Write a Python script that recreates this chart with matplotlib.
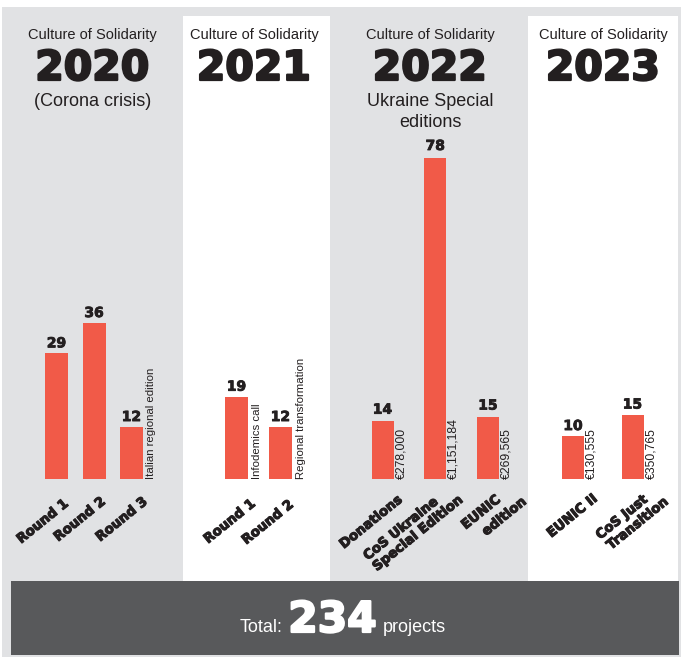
import matplotlib
matplotlib.use('Agg')
import matplotlib.pyplot as plt
from matplotlib.patches import Rectangle
import matplotlib.patheffects as pe

# ---------------- data ----------------
years = ['2020', '2021', '2022', '2023']
subtitles = [['(Corona crisis)'], [], ['Ukraine Special', 'editions'], []]

cats_2020 = ['Round 1', 'Round 2', 'Round 3']
vals_2020 = [29, 36, 12]
notes_2020 = ['', '', 'Italian regional edition']

cats_2021 = ['Round 1', 'Round 2']
vals_2021 = [19, 12]
notes_2021 = ['Infodemics call', 'Regional transformation']

cats_2022 = ['Donations', 'CoS Ukraine\nSpecial Edition', 'EUNIC\nedition']
vals_2022 = [14, 78, 15]
notes_2022 = ['€278,000', '€1,151,184', '€269,565']

cats_2023 = ['EUNIC II', 'CoS Just\nTransition']
vals_2023 = [10, 15]
notes_2023 = ['€130,555', '€350,765']

total_projects = 234

# ---------------- style / layout ----------------
GRAY = '#e1e2e4'
WHITE = '#ffffff'
RED = '#f15a48'
DARK = '#58595b'
INK = '#231f20'

W, H = 681, 657
BASE = 479            # pixel row of bar baseline
TOP = 16
PT = 0.72             # points per pixel at dpi 100

panel_x = [(2, 183), (183, 330), (330, 528), (528, 678)]
panel_bg = [GRAY, WHITE, GRAY, WHITE]
px_per_unit = [4.333, 4.333, 4.12, 4.3]
title_cx = [92.5, 254, 430, 603]
bar_c0 = [56.5, 236.5, 382.5, 573]
bar_sp = [37.5, 44, 52.75, 59.5]
bar_w = [23, 23, 22, 22]
note_size = [8.2, 8.2, 8.8, 8.8]
note_gap = [3.5, 3.5, 1.5, 1.5]
value_gap = [4.3, 4.3, 5.5, 4.3]
# anchor (dx, dy) in px of each label line's top-right end, relative to bar centre/baseline
label_off = [[[(6.5, 18)], [(6, 16)], [(10.5, 16)]],
             [[(13.5, 18)], [(7.5, 19)]],
             [[(14.5, 14)], [(-2.5, 16), (22.5, 14)], [(7, 14), (33, 16)]],
             [[(19, 13)], [(9.5, 14), (30.5, 16)]]]
LABEL_ROT = 39

SANS = ['Liberation Sans', 'DejaVu Sans']
HEAVY = ['DejaVu Sans']


def thick(w):
    return [pe.withStroke(linewidth=w, foreground=INK)]


def thick_white(w):
    return [pe.withStroke(linewidth=w, foreground='white')]


cats = [cats_2020, cats_2021, cats_2022, cats_2023]
vals = [vals_2020, vals_2021, vals_2022, vals_2023]
notes = [notes_2020, notes_2021, notes_2022, notes_2023]

fig = plt.figure(figsize=(W / 100, H / 100), dpi=100)
fig.patch.set_facecolor('white')


def fx(px):
    return px / W


def fy(py):
    return 1 - py / H


def frect(x0, y0, x1, y1, color, z=0):
    fig.patches.append(Rectangle((fx(x0), fy(y1)), (x1 - x0) / W, (y1 - y0) / H,
                                 transform=fig.transFigure, facecolor=color,
                                 edgecolor='none', zorder=z))


# background
frect(2, 7, 681, 657, GRAY)
for (x0, x1), bg in zip(panel_x, panel_bg):
    if bg == WHITE:
        frect(x0, TOP, x1, 581, WHITE, z=1)
frect(11, 581, 679, 655, DARK, z=2)

# titles
for k, yr in enumerate(years):
    cx = fx(title_cx[k])
    fig.text(cx, fy(39.5), 'Culture of Solidarity', ha='center', va='baseline',
             fontsize=10.5, family=SANS, color=INK)
    fig.text(cx, fy(80), yr, ha='center', va='baseline', fontsize=29.5,
             fontweight='bold', family=HEAVY, color=INK, path_effects=thick(1.6))
    for j, s in enumerate(subtitles[k]):
        fig.text(cx, fy(106 + j * 20.7), s, ha='center', va='baseline',
                 fontsize=13, family=SANS, color=INK)

# bars
for k in range(4):
    n = len(vals[k])
    left = bar_c0[k] - bar_sp[k] / 2
    right = bar_c0[k] + (n - 0.5) * bar_sp[k]
    ax = fig.add_axes([fx(left), fy(BASE), (right - left) / W, (BASE - TOP) / H])
    ax.set_xlim(-0.5, n - 0.5)
    ax.set_ylim(0, (BASE - TOP) / px_per_unit[k])
    ax.axis('off')
    ax.patch.set_alpha(0)
    ax.set_zorder(5)
    wfrac = bar_w[k] / bar_sp[k]
    xs = list(range(n))
    ax.bar(xs, vals[k], width=wfrac, color=RED, edgecolor='none')
    for i, v in enumerate(vals[k]):
        ax.annotate(str(v), (i, v), xytext=(0, value_gap[k]), textcoords='offset points',
                    ha='center', va='baseline', fontsize=10, fontweight='bold',
                    family=HEAVY, color=INK, annotation_clip=False,
                    path_effects=thick(0.6))
        if notes[k][i]:
            ax.annotate(notes[k][i], (i + wfrac / 2, 0),
                        xytext=(note_gap[k] * PT, 0), textcoords='offset points',
                        rotation=90, rotation_mode='anchor', ha='left', va='top',
                        fontsize=note_size[k], family=SANS, color=INK,
                        annotation_clip=False)
        for line, (dx, dy) in zip(cats[k][i].split('\n'), label_off[k][i]):
            ax.annotate(line, (i, 0), xytext=(dx * PT, -dy * PT),
                        textcoords='offset points', rotation=LABEL_ROT,
                        rotation_mode='anchor', ha='right', va='top',
                        fontsize=9.6, fontweight='bold', family=HEAVY, color=INK,
                        annotation_clip=False, path_effects=thick(0.8))

# total
fig.text(fx(283), fy(632), 'Total:', ha='right', va='baseline', fontsize=13,
         family=SANS, color='white', zorder=6)
fig.text(fx(332.5), fy(632), str(total_projects), ha='center', va='baseline',
         fontsize=30.5, fontweight='bold', family=HEAVY, color='white', zorder=6,
         path_effects=thick_white(1.6))
fig.text(fx(383), fy(632), 'projects', ha='left', va='baseline', fontsize=13,
         family=SANS, color='white', zorder=6)

fig.savefig('out.png', dpi=100, facecolor=fig.get_facecolor())
